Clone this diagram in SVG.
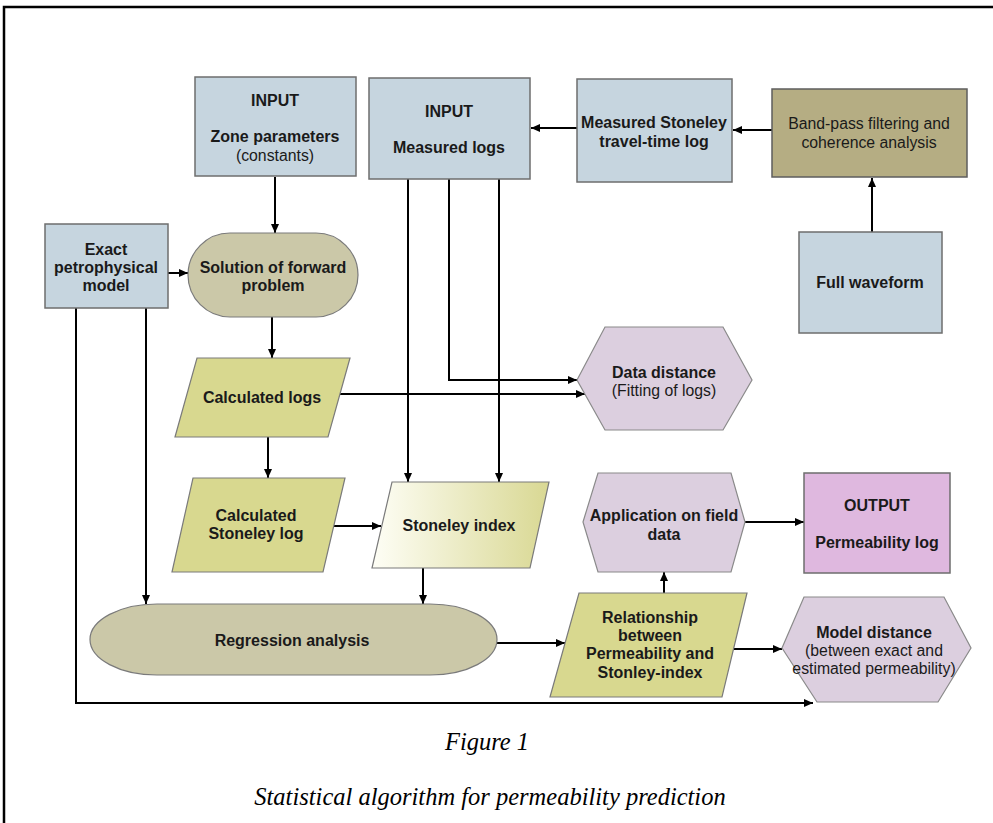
<svg xmlns="http://www.w3.org/2000/svg" width="993" height="823" viewBox="0 0 993 823">
<defs>
<marker id="ah" markerWidth="10" markerHeight="8" refX="9" refY="4" orient="auto" markerUnits="userSpaceOnUse">
<path d="M0,0 L9,4 L0,8 z" fill="#000"/>
</marker>
<linearGradient id="sig" x1="0" y1="0" x2="1" y2="0">
<stop offset="0" stop-color="#fefef6"/>
<stop offset="1" stop-color="#d9d893"/>
</linearGradient>
<style>
.blue{fill:#c6d5df;stroke:#6e6e6e;stroke-width:1.5}
.khaki{fill:#b5ad83;stroke:#5e5e5e;stroke-width:1.5}
.olive{fill:#cbc8a8;stroke:#7a7a7a;stroke-width:1.2}
.yel{fill:#d8d88f;stroke:#7a7a7a;stroke-width:1.2}
.hex{fill:#dccfdf;stroke:#8a8a8a;stroke-width:1.2}
.out{fill:#dfb8df;stroke:#6e6e6e;stroke-width:1.5}
text{font-family:"Liberation Sans",Arial,sans-serif;fill:#1a1a1a;text-anchor:middle}
.b{font-weight:bold;font-size:16px}
.n{font-size:15.8px}
.cap{font-family:"Liberation Serif","Times New Roman",serif;font-style:italic;font-size:24.5px;fill:#000}
.c{fill:none;stroke:#000;stroke-width:2}
.ca{fill:none;stroke:#000;stroke-width:2;marker-end:url(#ah)}
</style>
</defs>
<rect width="993" height="823" fill="#fff"/>
<path d="M4,823 V7 H993" fill="none" stroke="#000" stroke-width="2.5"/>

<g id="connectors">
<path class="ca" d="M275,177 V233"/>
<path class="ca" d="M168,273 H188"/>
<path class="ca" d="M772,130 H733"/>
<path class="ca" d="M577,128 H531"/>
<path class="ca" d="M872,232 V178"/>
<path class="ca" d="M272,317 V358"/>
<path class="ca" d="M268,437 V478"/>
<path class="ca" d="M340,394 H585"/>
<path class="ca" d="M449,179 V380 H577"/>
<path class="ca" d="M408,179 V482"/>
<path class="ca" d="M499,179 V482"/>
<path class="ca" d="M334,526 H381"/>
<path class="ca" d="M423,568 V604"/>
<path class="ca" d="M146,308 V604"/>
<path class="ca" d="M76,308 V703 H813"/>
<path class="ca" d="M497,643 H565"/>
<path class="ca" d="M664,593 V572"/>
<path class="ca" d="M745,522 H804"/>
<path class="ca" d="M734,649 H782"/>
</g>

<g id="zone">
<rect class="blue" x="195" y="77" width="161" height="99"/>
<text class="b" x="275" y="106">INPUT</text>
<text class="b" x="275" y="142">Zone parameters</text>
<text class="n" x="275" y="161">(constants)</text>
</g>

<g id="measured-logs">
<rect class="blue" x="369" y="78" width="161" height="101"/>
<text class="b" x="449" y="117">INPUT</text>
<text class="b" x="449" y="153">Measured logs</text>
</g>

<g id="measured-stoneley">
<rect class="blue" x="577" y="79" width="155" height="103"/>
<text class="b" x="654" y="128">Measured Stoneley</text>
<text class="b" x="654" y="147">travel-time log</text>
</g>

<g id="bandpass">
<rect class="khaki" x="772" y="89" width="195" height="88"/>
<text class="n" x="869" y="129">Band-pass filtering and</text>
<text class="n" x="869" y="148">coherence analysis</text>
</g>

<g id="full-waveform">
<rect class="blue" x="799" y="232" width="143" height="101"/>
<text class="b" x="870" y="288">Full waveform</text>
</g>

<g id="exact-model">
<rect class="blue" x="45" y="224" width="123" height="84"/>
<text class="b" x="106" y="255">Exact</text>
<text class="b" x="106" y="273">petrophysical</text>
<text class="b" x="106" y="291">model</text>
</g>

<g id="solution">
<rect class="olive" x="188" y="233" width="170" height="84" rx="42" ry="42"/>
<text class="b" x="273" y="273">Solution of forward</text>
<text class="b" x="273" y="291">problem</text>
</g>

<g id="calc-logs">
<polygon class="yel" points="197,358 350,358 328,437 175,437"/>
<text class="b" x="262" y="403">Calculated logs</text>
</g>

<g id="calc-stoneley">
<polygon class="yel" points="193,478 345,478 323,572 172,572"/>
<text class="b" x="256" y="521">Calculated</text>
<text class="b" x="256" y="539">Stoneley log</text>
</g>

<g id="stoneley-index">
<polygon points="392,482 549,482 530,568 372,568" fill="url(#sig)" stroke="#7a7a7a" stroke-width="1.2"/>
<text class="b" x="459" y="531">Stoneley index</text>
</g>

<g id="data-distance">
<polygon class="hex" points="577,380 605,327 723,327 752,380 723,430 605,430"/>
<text class="b" x="664" y="378">Data distance</text>
<text class="n" x="664" y="396">(Fitting of logs)</text>
</g>

<g id="regression">
<rect class="olive" x="90" y="604" width="407" height="71" rx="67" ry="35.5"/>
<text class="b" x="292" y="646">Regression analysis</text>
</g>

<g id="relationship">
<polygon class="yel" points="579,593 747,593 722,697 550,697"/>
<text class="b" x="650" y="623">Relationship</text>
<text class="b" x="650" y="641">between</text>
<text class="b" x="650" y="659">Permeability and</text>
<text class="b" x="650" y="678">Stonley-index</text>
</g>

<g id="application">
<polygon class="hex" points="583,522 598,473 731,473 745,522 731,572 598,572"/>
<text class="b" x="664" y="521">Application on field</text>
<text class="b" x="664" y="540">data</text>
</g>

<g id="output">
<rect class="out" x="804" y="473" width="146" height="100"/>
<text class="b" x="877" y="511">OUTPUT</text>
<text class="b" x="877" y="548">Permeability log</text>
</g>

<g id="model-distance">
<polygon class="hex" points="782,648 804,597 944,597 971,648 938,702 817,702"/>
<text class="b" x="874" y="638">Model distance</text>
<text class="n" x="874" y="656">(between exact and</text>
<text class="n" x="874" y="674">estimated permeability)</text>
</g>

<g id="caption">
<text class="cap" x="487" y="750">Figure 1</text>
<text class="cap" x="490" y="805">Statistical algorithm for permeability prediction</text>
</g>
</svg>
